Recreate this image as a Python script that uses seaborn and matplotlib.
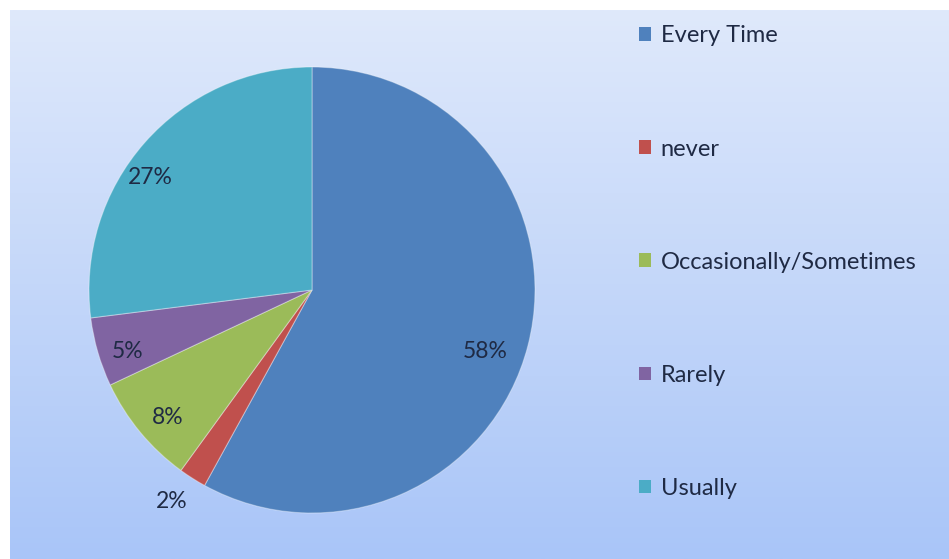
import numpy as np
import matplotlib
matplotlib.use('Agg')
import matplotlib.pyplot as plt
from matplotlib.patches import Patch
import seaborn as sns

categories = ['Every Time', 'never', 'Occasionally/Sometimes', 'Rarely', 'Usually']
shares = [58, 2, 8, 5, 27]
pct_labels = ['58%', '2%', '8%', '5%', '27%']
colors = ['#4f81bd', '#c0504d', '#9bbb59', '#8064a2', '#4bacc6']

# label spots in pixel coords (x, y from top)
label_spots = [(485, 352), (172, 502), (168, 418), (128, 352), (150, 177)]

sns.set_theme(style='white')
plt.rcParams['font.family'] = ['Lato', 'DejaVu Sans']

W, H = 949, 559
fig = plt.figure(figsize=(W / 100, H / 100), dpi=100)
fig.patch.set_facecolor('white')
ax = fig.add_axes([0, 0, 1, 1])

# chart area gradient
grad = np.linspace(0, 1, 256).reshape(-1, 1)
cmap = matplotlib.colors.LinearSegmentedColormap.from_list('bg', ['#dfe9fb', '#a9c5f8'])
ax.imshow(grad, cmap=cmap, extent=(10, W, 0, H - 10), aspect='auto', zorder=0)

cx, cy, r = 312, H - 290, 223
wedges, _ = ax.pie(shares, colors=colors, startangle=90, counterclock=False,
                   center=(cx, cy), radius=r, frame=True,
                   wedgeprops=dict(edgecolor=(1, 1, 1, 0.35), linewidth=0.8))
ax.set_xlim(0, W)
ax.set_ylim(0, H)
ax.set_aspect('equal')
ax.axis('off')

for txt, (x, y) in zip(pct_labels, label_spots):
    ax.text(x, H - y, txt, ha='center', va='center', fontsize=16.5, color='#1f2a44')

handles = [Patch(facecolor=c, edgecolor='none') for c in colors]
leg = ax.legend(handles, categories, loc='upper left', bbox_to_anchor=(630 / W, 1 - 16 / H),
                frameon=False, fontsize=17, labelcolor='#1f2a44',
                handlelength=0.5, handleheight=0.5, handletextpad=0.4,
                labelspacing=3.9, borderaxespad=0)

fig.savefig('out.png', dpi=100, facecolor=fig.get_facecolor())
